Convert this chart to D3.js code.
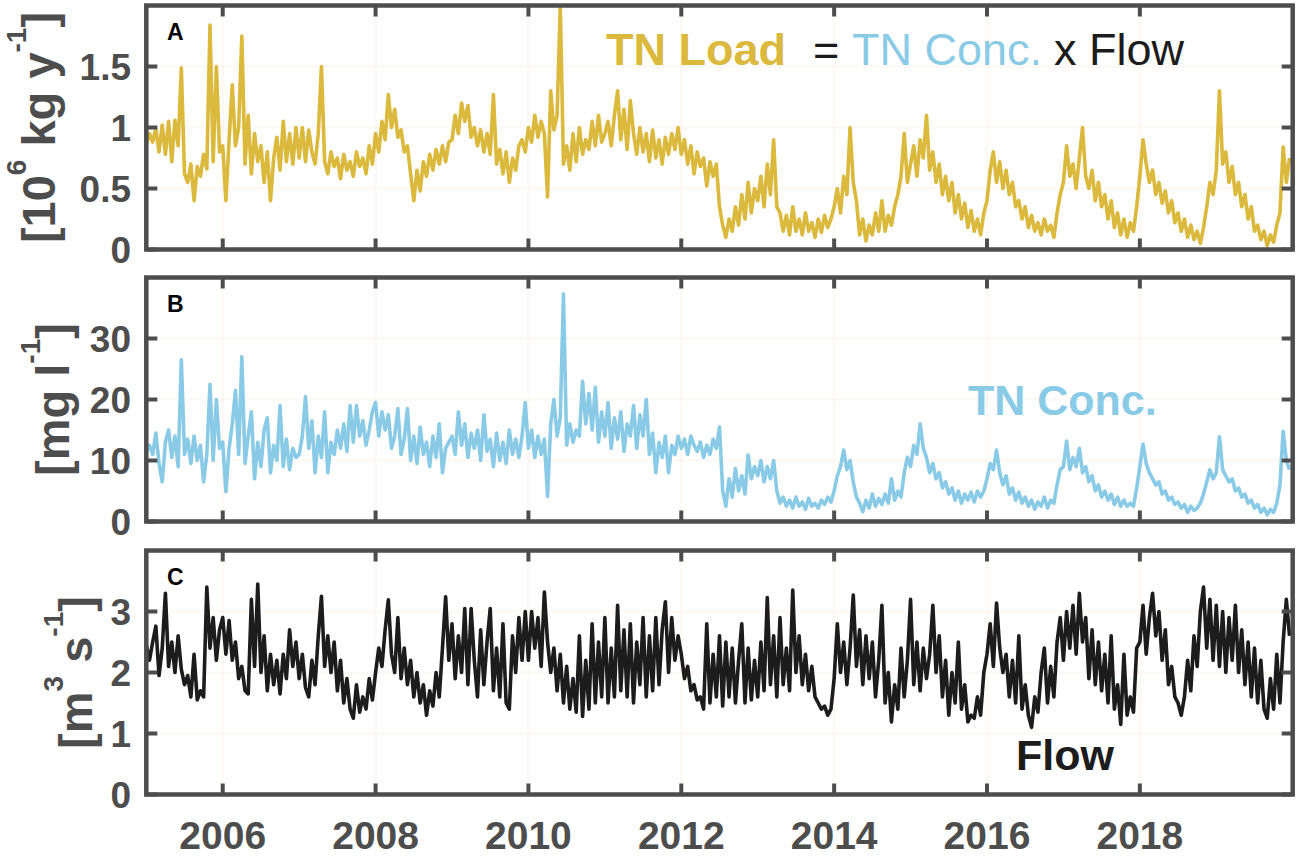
<!DOCTYPE html>
<html>
<head>
<meta charset="utf-8">
<script src="https://cdn.jsdelivr.net/npm/d3@7"></script>
<style>
  body { margin: 0; background: #fff; }
  svg text { font-family: "Liberation Sans", Arial, Helvetica, sans-serif; }
</style>
</head>
<body>
<div id="chart"></div>
<script>
// values at half-month steps, starting Jan 2005
const startYear = 2005;
const stepsPerYear = 24;
const yearTicks = [2006, 2008, 2010, 2012, 2014, 2016, 2018];

const loadTicks = [0, 0.5, 1, 1.5];
const concTicks = [0, 10, 20, 30];
const flowTicks = [0, 1, 2, 3];

// TN load [10^6 kg y^-1]
const tnLoad = [
  0.86, 0.95, 0.88, 0.99, 0.80, 1.02, 0.78, 1.05, 0.72, 1.06, 0.85, 1.49, 0.62, 0.55, 0.70, 0.40, 0.68, 0.60, 0.78, 0.66, 1.84, 0.72, 1.50, 0.80, // 2005
  0.85, 0.40, 0.90, 1.35, 0.85, 1.00, 1.75, 0.70, 1.10, 0.62, 0.95, 0.72, 0.85, 0.55, 0.80, 0.40, 0.75, 0.92, 0.65, 1.05, 0.72, 0.95, 0.70, 1.00, // 2006
  0.75, 1.00, 0.72, 0.98, 0.80, 0.70, 0.95, 1.50, 0.72, 0.62, 0.80, 0.68, 0.75, 0.58, 0.78, 0.65, 0.72, 0.60, 0.80, 0.68, 0.75, 0.62, 0.85, 0.70, // 2007
  0.95, 0.80, 1.05, 0.90, 1.27, 1.00, 1.15, 0.92, 0.98, 0.80, 0.85, 0.62, 0.40, 0.65, 0.48, 0.72, 0.60, 0.78, 0.65, 0.82, 0.70, 0.85, 0.72, 0.88, // 2008
  0.90, 1.10, 0.95, 1.20, 1.05, 1.18, 0.92, 1.00, 0.85, 0.98, 0.80, 0.95, 0.78, 1.27, 0.70, 0.82, 0.62, 0.80, 0.55, 0.75, 0.65, 0.85, 0.90, 0.80, // 2009
  1.00, 0.88, 1.10, 0.92, 1.05, 0.95, 0.43, 1.30, 0.98, 1.10, 2.00, 0.70, 0.85, 0.65, 0.95, 0.72, 1.00, 0.78, 0.90, 0.82, 1.05, 0.85, 1.10, 0.88, // 2010
  0.95, 1.05, 0.85, 1.10, 1.30, 0.90, 1.15, 0.82, 1.22, 0.95, 0.78, 1.00, 0.80, 0.95, 0.72, 0.98, 0.75, 0.90, 0.70, 0.92, 0.78, 0.95, 0.82, 1.00, // 2011
  0.78, 0.90, 0.70, 0.85, 0.62, 0.80, 0.68, 0.75, 0.52, 0.72, 0.60, 0.70, 0.35, 0.20, 0.10, 0.25, 0.15, 0.35, 0.20, 0.45, 0.25, 0.55, 0.30, 0.50, // 2012
  0.40, 0.60, 0.35, 0.70, 0.45, 0.90, 0.35, 0.30, 0.15, 0.28, 0.12, 0.35, 0.15, 0.25, 0.12, 0.30, 0.15, 0.22, 0.10, 0.25, 0.14, 0.28, 0.18, 0.25, // 2013
  0.35, 0.50, 0.30, 0.60, 0.45, 1.00, 0.55, 0.40, 0.12, 0.25, 0.07, 0.20, 0.12, 0.30, 0.15, 0.40, 0.15, 0.28, 0.20, 0.35, 0.45, 0.60, 0.95, 0.55, // 2014
  0.70, 0.85, 0.60, 0.90, 0.75, 1.10, 0.65, 0.80, 0.55, 0.70, 0.45, 0.60, 0.40, 0.55, 0.30, 0.45, 0.25, 0.38, 0.18, 0.32, 0.15, 0.25, 0.12, 0.30, // 2015
  0.40, 0.65, 0.80, 0.55, 0.72, 0.50, 0.65, 0.45, 0.55, 0.35, 0.40, 0.25, 0.35, 0.18, 0.28, 0.15, 0.22, 0.12, 0.25, 0.15, 0.20, 0.10, 0.30, 0.45, // 2016
  0.55, 0.85, 0.60, 0.70, 0.50, 0.75, 1.00, 0.60, 0.50, 0.65, 0.40, 0.55, 0.35, 0.45, 0.25, 0.40, 0.18, 0.30, 0.12, 0.25, 0.10, 0.22, 0.15, 0.35, // 2017
  0.60, 0.90, 0.70, 0.55, 0.65, 0.45, 0.55, 0.38, 0.48, 0.30, 0.40, 0.22, 0.30, 0.15, 0.25, 0.10, 0.20, 0.08, 0.15, 0.05, 0.18, 0.35, 0.55, 0.45, // 2018
  0.65, 1.30, 0.70, 0.80, 0.55, 0.68, 0.45, 0.55, 0.35, 0.45, 0.25, 0.35, 0.15, 0.20, 0.08, 0.15, 0.03, 0.12, 0.06, 0.20, 0.30, 0.84, 0.55, 0.75  // 2019
];

// TN concentration [mg l^-1]
const tnConc = [
  11.5, 12.5, 11.0, 14.5, 9.5, 6.5, 13.0, 15.0, 10.5, 14.0, 9.0, 26.5, 11.0, 13.5, 9.5, 14.0, 10.0, 12.5, 6.5, 11.0, 22.5, 10.0, 20.0, 12.0, // 2005
  13.0, 4.9, 12.0, 16.0, 21.5, 11.0, 27.0, 9.5, 14.0, 18.0, 7.0, 13.0, 9.0, 15.0, 17.0, 8.0, 12.5, 10.0, 19.0, 9.0, 13.5, 8.5, 12.0, 10.5, // 2006
  11.0, 14.0, 20.5, 12.0, 16.5, 8.0, 14.0, 10.5, 18.0, 8.0, 13.0, 11.0, 15.0, 12.0, 16.0, 11.5, 19.0, 13.0, 19.0, 14.0, 16.5, 12.5, 15.0, 18.0, // 2007
  19.5, 14.0, 18.0, 15.0, 17.5, 12.0, 14.0, 18.5, 11.0, 13.5, 18.5, 10.0, 14.0, 9.5, 15.5, 11.0, 13.0, 9.0, 14.0, 10.5, 16.0, 8.0, 12.0, 13.0, // 2008
  14.0, 11.0, 18.0, 12.5, 16.0, 10.5, 14.5, 12.0, 15.0, 10.0, 17.5, 11.5, 13.5, 9.0, 14.5, 10.0, 13.0, 9.5, 15.0, 11.0, 13.5, 10.5, 14.0, 19.5, // 2009
  12.0, 15.0, 10.5, 14.0, 11.0, 13.5, 4.1, 16.0, 20.0, 14.0, 17.0, 37.3, 12.5, 16.0, 13.0, 15.0, 14.0, 23.0, 16.0, 21.0, 15.0, 22.0, 13.0, 18.0, // 2010
  14.0, 19.5, 12.0, 17.0, 13.5, 18.0, 11.5, 16.0, 14.0, 19.0, 12.0, 17.5, 14.0, 20.0, 11.0, 14.5, 8.0, 13.0, 10.5, 14.0, 8.0, 12.5, 11.0, 14.0, // 2011
  12.0, 13.5, 11.0, 14.0, 12.5, 11.5, 13.0, 10.5, 12.5, 11.0, 13.5, 12.0, 15.5, 5.0, 2.5, 7.0, 4.0, 8.7, 5.0, 7.5, 4.5, 10.9, 7.0, 9.0, // 2012
  7.5, 10.0, 6.5, 9.0, 7.0, 10.0, 5.0, 3.0, 4.0, 2.5, 3.5, 2.2, 4.0, 2.5, 3.2, 2.0, 3.8, 2.5, 3.0, 2.2, 3.5, 2.8, 4.0, 3.2, // 2013
  5.0, 7.5, 9.0, 11.7, 8.5, 10.0, 6.5, 4.0, 3.0, 1.6, 3.5, 2.2, 4.5, 2.5, 3.8, 2.8, 4.5, 3.0, 7.0, 3.5, 5.0, 4.0, 8.0, 10.5, // 2014
  9.0, 12.5, 11.0, 16.0, 12.0, 10.5, 8.0, 9.5, 7.0, 8.0, 5.5, 6.5, 4.5, 5.5, 3.5, 5.0, 3.0, 4.5, 3.5, 4.8, 3.2, 5.0, 4.0, 5.0, // 2015
  7.0, 9.5, 8.5, 11.7, 8.0, 6.0, 7.5, 4.5, 5.5, 3.5, 4.8, 3.0, 4.0, 2.5, 3.5, 2.0, 3.2, 2.5, 4.0, 2.2, 3.5, 3.0, 6.0, 8.5, // 2016
  9.0, 13.2, 8.5, 10.5, 9.0, 12.0, 8.0, 9.0, 6.5, 7.5, 5.0, 6.0, 4.0, 5.0, 3.5, 4.5, 2.8, 4.0, 2.5, 3.5, 2.5, 3.0, 2.5, 5.5, // 2017
  9.0, 12.7, 9.5, 8.0, 7.0, 6.0, 6.5, 4.5, 5.0, 3.5, 4.0, 2.8, 3.2, 2.2, 2.8, 1.5, 2.5, 1.8, 2.2, 3.0, 4.5, 6.5, 8.5, 7.0, // 2018
  8.0, 13.9, 8.5, 7.5, 6.5, 7.0, 5.0, 5.5, 4.0, 4.5, 3.0, 3.5, 2.2, 2.8, 1.5, 2.2, 1.1, 2.0, 1.5, 3.0, 6.0, 14.8, 10.0, 8.5  // 2019
];

// flow [m^3 s^-1]
const flow = [
  2.45, 2.20, 2.50, 2.76, 1.95, 2.40, 3.30, 2.10, 2.50, 2.00, 2.60, 2.05, 1.80, 1.95, 1.60, 2.30, 1.55, 1.70, 1.60, 3.40, 2.40, 2.90, 2.20, 2.70, // 2005
  2.90, 2.30, 2.85, 2.20, 2.50, 1.90, 2.10, 1.70, 1.65, 3.20, 2.10, 3.45, 2.00, 2.60, 1.70, 2.30, 1.80, 2.20, 1.65, 2.30, 1.90, 2.70, 2.10, 2.50, // 2006
  1.90, 2.30, 1.75, 1.60, 2.20, 1.80, 2.60, 3.25, 2.10, 2.60, 2.00, 2.50, 1.70, 2.20, 1.50, 1.90, 1.40, 1.25, 1.80, 1.35, 1.60, 1.40, 1.90, 1.55, // 2007
  2.00, 2.40, 2.10, 2.70, 3.19, 2.30, 2.00, 2.90, 1.90, 2.40, 1.80, 2.20, 1.60, 2.00, 1.50, 1.80, 1.30, 1.70, 1.45, 2.00, 1.60, 2.40, 3.24, 2.20, // 2008
  2.80, 1.90, 2.60, 2.00, 3.05, 1.80, 3.05, 2.20, 1.60, 2.70, 1.80, 2.50, 3.05, 1.70, 2.40, 1.60, 2.80, 1.50, 1.40, 2.60, 2.00, 2.90, 2.20, 3.00, // 2009
  2.20, 3.00, 2.40, 2.90, 2.10, 3.32, 2.50, 2.00, 2.40, 1.70, 2.30, 1.50, 2.10, 1.40, 1.90, 1.35, 2.60, 1.28, 2.20, 1.40, 2.80, 1.50, 2.50, 1.60, // 2010
  2.90, 1.50, 2.40, 1.60, 3.10, 1.70, 2.70, 1.60, 2.80, 1.50, 2.50, 1.80, 2.90, 1.60, 2.60, 1.70, 2.90, 1.80, 2.70, 3.16, 2.00, 2.90, 2.20, 2.60, // 2011
  2.30, 1.90, 2.10, 1.70, 1.80, 1.55, 1.60, 1.40, 2.80, 1.50, 2.30, 1.60, 2.60, 1.45, 2.50, 1.60, 2.40, 1.50, 2.20, 2.80, 1.50, 2.40, 1.55, 2.20, // 2012
  1.60, 2.50, 1.70, 3.23, 1.80, 2.60, 1.60, 2.90, 1.80, 2.40, 1.70, 3.35, 2.00, 2.60, 1.80, 2.30, 1.70, 2.10, 1.60, 1.50, 1.40, 1.45, 1.30, 1.40, // 2013
  1.90, 2.80, 2.00, 2.50, 1.80, 2.40, 3.27, 2.10, 2.70, 1.80, 2.60, 1.90, 2.50, 1.60, 2.20, 3.10, 1.50, 2.00, 1.19, 1.80, 1.40, 2.40, 1.60, 2.20, // 2014
  3.20, 1.80, 2.50, 1.70, 2.40, 1.90, 2.30, 3.10, 2.00, 2.60, 1.60, 2.20, 1.30, 2.00, 1.50, 2.50, 1.40, 1.80, 1.19, 1.30, 1.25, 1.60, 1.30, 2.00, // 2015
  2.30, 2.80, 2.10, 3.14, 2.40, 2.00, 2.30, 1.60, 2.20, 1.50, 2.60, 1.40, 1.80, 1.30, 1.10, 1.60, 1.35, 2.00, 2.40, 1.50, 2.10, 1.60, 2.50, 2.90, // 2016
  2.20, 3.00, 2.40, 3.10, 2.30, 3.30, 2.50, 2.90, 1.90, 2.70, 1.80, 2.50, 1.70, 2.30, 1.50, 2.60, 1.40, 1.80, 1.15, 2.30, 1.30, 1.60, 1.35, 2.40, // 2017
  2.50, 3.10, 2.30, 2.90, 3.30, 2.60, 3.00, 2.20, 2.70, 1.80, 2.10, 1.60, 1.50, 1.30, 1.60, 2.20, 1.70, 2.60, 2.10, 3.00, 3.40, 2.40, 3.20, 2.20, // 2018
  3.10, 2.10, 3.00, 2.00, 2.90, 2.20, 3.10, 2.00, 2.70, 1.80, 2.50, 1.60, 2.40, 1.50, 2.20, 1.40, 1.25, 1.90, 1.40, 2.30, 1.50, 2.50, 3.20, 2.60  // 2019
];

const axisGray = "#4d4d4d";
const W = 1299, H = 857;
const panelH = 244;

const svg = d3.select("#chart").append("svg")
  .attr("width", W)
  .attr("height", H);

const x = d3.scaleLinear().domain([2005, 2020]).range([146.3, 1292.7]);

const panels = [
  { tag: "A", top: 5.5, values: tnLoad, ymax: 2, ticks: loadTicks, color: "#DAB93C",
    labelX: 55, label: [["[10", 0], ["6", 1], [" kg y", 0], ["-1", 1], ["]", 0]] },
  { tag: "B", top: 277.5, values: tnConc, ymax: 40, ticks: concTicks, color: "#89CBE6",
    labelX: 69, label: [["[mg l", 0], ["-1", 1], ["]", 0]] },
  { tag: "C", top: 550.5, values: flow, ymax: 4, ticks: flowTicks, color: "#1c1c1c",
    labelX: 92, label: [["[m", 0], ["3", 1], [" s", 0], ["-1", 1], ["]", 0]] }
];

panels.forEach((p, pi) => {
  const y = d3.scaleLinear().domain([0, p.ymax]).range([p.top + panelH, p.top]);
  const g = svg.append("g");
  const x0 = x.range()[0], x1 = x.range()[1];
  const y0 = p.top, y1 = p.top + panelH;

  // faint grid
  g.selectAll(".vgrid").data(yearTicks).enter().append("line")
    .attr("x1", d => x(d)).attr("x2", d => x(d))
    .attr("y1", y0).attr("y2", y1)
    .attr("stroke", "rgb(240,140,110)").attr("stroke-opacity", 0.06).attr("stroke-width", 2.5);
  g.selectAll(".hgrid").data(p.ticks.filter(d => d > 0)).enter().append("line")
    .attr("x1", x0).attr("x2", x1)
    .attr("y1", d => y(d)).attr("y2", d => y(d))
    .attr("stroke", "rgb(240,140,110)").attr("stroke-opacity", 0.06).attr("stroke-width", 2.5);

  // series
  g.append("clipPath").attr("id", "clip" + pi)
    .append("rect").attr("x", x0).attr("y", y0).attr("width", x1 - x0).attr("height", panelH);

  const line = d3.line()
    .x((d, i) => x(startYear + i / stepsPerYear))
    .y(d => y(d));

  g.append("path")
    .datum(p.values)
    .attr("clip-path", `url(#clip${pi})`)
    .attr("d", line)
    .attr("fill", "none")
    .attr("stroke", p.color)
    .attr("stroke-width", 3.6)
    .attr("stroke-linejoin", "round");

  // ticks pointing inward on all four sides
  const tl = 11;
  yearTicks.forEach(t => {
    g.append("line").attr("x1", x(t)).attr("x2", x(t)).attr("y1", y1).attr("y2", y1 - tl)
      .attr("stroke", axisGray).attr("stroke-width", 4);
    g.append("line").attr("x1", x(t)).attr("x2", x(t)).attr("y1", y0).attr("y2", y0 + tl)
      .attr("stroke", axisGray).attr("stroke-width", 4);
  });
  p.ticks.forEach(t => {
    g.append("line").attr("x1", x0).attr("x2", x0 + tl).attr("y1", y(t)).attr("y2", y(t))
      .attr("stroke", axisGray).attr("stroke-width", 4);
    g.append("line").attr("x1", x1).attr("x2", x1 - tl).attr("y1", y(t)).attr("y2", y(t))
      .attr("stroke", axisGray).attr("stroke-width", 4);
  });

  // box
  g.append("rect")
    .attr("x", x0).attr("y", y0).attr("width", x1 - x0).attr("height", panelH)
    .attr("fill", "none").attr("stroke", axisGray).attr("stroke-width", 4.5);

  // y tick labels
  g.selectAll(".ylab").data(p.ticks).enter().append("text")
    .attr("x", 131)
    .attr("y", d => y(d))
    .attr("dy", "0.36em")
    .attr("text-anchor", "end")
    .attr("font-size", 37)
    .attr("font-weight", "bold")
    .attr("fill", axisGray)
    .text(d => d3.format("~g")(d));

  // y axis label
  const yl = g.append("text")
    .attr("transform", `translate(${p.labelX},${(y0 + y1) / 2}) rotate(-90)`)
    .attr("text-anchor", "middle")
    .attr("font-size", 47)
    .attr("font-weight", "bold")
    .attr("fill", axisGray);
  let up = false;
  p.label.forEach(([s, sup]) => {
    const ts = yl.append("tspan").text(s);
    if (sup && !up) { ts.attr("dy", -29).attr("font-size", 28); up = true; }
    else if (sup) { ts.attr("font-size", 28); }
    else if (up) { ts.attr("dy", 29); up = false; }
  });

  // panel letter
  g.append("text")
    .attr("x", 167).attr("y", y0 + 34)
    .attr("font-size", 23).attr("font-weight", "bold").attr("fill", "#000")
    .text(p.tag);
});

// x tick labels below the bottom panel
svg.selectAll(".xlab").data(yearTicks).enter().append("text")
  .attr("x", d => x(d))
  .attr("y", 849)
  .attr("text-anchor", "middle")
  .attr("font-size", 39)
  .attr("font-weight", "bold")
  .attr("fill", axisGray)
  .text(d => d);

// annotations
const eq = svg.append("text").attr("y", 65).attr("font-size", 45);
eq.append("tspan").attr("x", 606).attr("font-weight", "bold").attr("fill", "#DAB93C").text("TN Load");
eq.append("tspan").attr("x", 813).attr("fill", "#1c1c1c").text("=");
eq.append("tspan").attr("x", 852).attr("fill", "#89CBE6").text("TN Conc.");
eq.append("tspan").attr("x", 1054).attr("fill", "#1c1c1c").text("x Flow");

svg.append("text")
  .attr("x", 968).attr("y", 415)
  .attr("font-size", 43).attr("font-weight", "bold").attr("fill", "#89CBE6")
  .text("TN Conc.");

svg.append("text")
  .attr("x", 1016).attr("y", 770)
  .attr("font-size", 43).attr("font-weight", "bold").attr("fill", "#1c1c1c")
  .text("Flow");
</script>
</body>
</html>
